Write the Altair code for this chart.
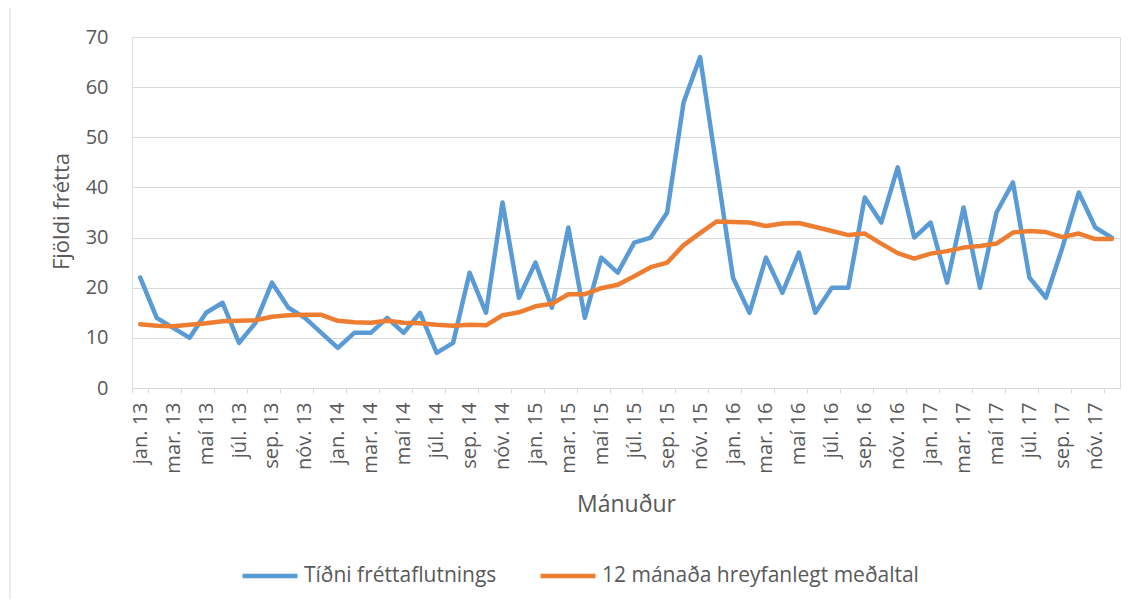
import altair as alt
import pandas as pd

month_abbr = ["jan.", "feb.", "mar.", "apr.", "maí", "jún.", "júl.", "ág.", "sep.", "okt.", "nóv.", "des."]
years = ["13", "14", "15", "16", "17"]
months = [f"{m} {y}" for y in years for m in month_abbr]

tidni = [
    22, 14, 12, 10, 15, 17, 9, 13, 21, 16, 14, 11,
    8, 11, 11, 14, 11, 15, 7, 9, 23, 15, 37, 18,
    25, 16, 32, 14, 26, 23, 29, 30, 35, 57, 66, 44,
    22, 15, 26, 19, 27, 15, 20, 20, 38, 33, 44, 30,
    33, 21, 36, 20, 35, 41, 22, 18, 28, 39, 32, 30,
]
medaltal = [
    12.7, 12.4, 12.3, 12.6, 12.9, 13.3, 13.4, 13.5, 14.2, 14.5, 14.6, 14.6,
    13.4, 13.1, 13.0, 13.4, 13.0, 12.9, 12.6, 12.4, 12.6, 12.5, 14.5, 15.1,
    16.3, 16.8, 18.7, 18.7, 19.9, 20.6, 22.3, 24.1, 25.0, 28.5, 30.9, 33.2,
    33.1, 33.0, 32.3, 32.8, 32.9, 32.1, 31.3, 30.5, 30.8, 28.8, 26.9, 25.8,
    26.8, 27.3, 28.0, 28.3, 28.8, 31.0, 31.3, 31.1, 30.1, 30.8, 29.7, 29.7,
]
series_names = ["Tíðni fréttaflutnings", "12 mánaða hreyfanlegt meðaltal"]
series_colors = ["#5B9BD5", "#ED7D31"]
y_ticks = [0, 10, 20, 30, 40, 50, 60, 70]
label_months = months[::2]

rows = []
for i, m in enumerate(months):
    rows.append({"month": m, "idx": i, "series": series_names[0], "value": tidni[i]})
for i, m in enumerate(months):
    rows.append({"month": m, "idx": i, "series": series_names[1], "value": medaltal[i]})
df = pd.DataFrame(rows)

TXT = "#595959"
GRID = "#D9D9D9"

x_enc = alt.X(
    "month:N",
    sort=months,
    scale=alt.Scale(type="band", paddingInner=0, paddingOuter=0),
    axis=alt.Axis(
        values=label_months,
        labelAngle=-90,
        labelAlign="right",
        labelBaseline="middle",
        labelFontSize=20,
        labelColor=TXT,
        labelPadding=9,
        tickBand="extent",
        tickSize=5,
        tickColor=GRID,
        domainColor=GRID,
        grid=False,
        title="Mánuður",
        titleFontSize=23,
        titleFontWeight="normal",
        titleColor=TXT,
        titleY=116,
        titleBaseline="middle",
    ),
)
y_enc = alt.Y(
    "value:Q",
    scale=alt.Scale(domain=[0, 70]),
    axis=alt.Axis(
        values=y_ticks,
        ticks=False,
        domain=False,
        gridColor=GRID,
        labelFontSize=20,
        labelColor=TXT,
        labelPadding=24,
        title="Fjöldi frétta",
        titleFontSize=22,
        titleFontWeight="normal",
        titleColor=TXT,
        titleAngle=-90,
        titleX=-71,
        titleY=174,
        titleAlign="center",
        titleBaseline="middle",
    ),
)
color_enc = alt.Color(
    "series:N",
    scale=alt.Scale(domain=series_names, range=series_colors),
    legend=alt.Legend(
        title=None,
        orient="none",
        legendX=108,
        legendY=509,
        direction="horizontal",
        symbolType="stroke",
        symbolSize=3025,
        symbolStrokeWidth=4.5,
        labelFontSize=21,
        labelColor=TXT,
        labelOffset=4,
        labelLimit=0,
        columnPadding=34,
        padding=0,
    ),
)

border = alt.Chart(alt.Data(values=[{"a": 1}])).mark_rect(
    fill=None, stroke=GRID, strokeWidth=1
).encode(
    x=alt.value(-122), x2=alt.value(1002), y=alt.value(-36), y2=alt.value(567)
)

base = alt.Chart(df)
line1 = base.transform_filter(alt.datum.series == series_names[0]).mark_line(
    strokeWidth=4.5, strokeJoin="round", strokeCap="round"
).encode(x=x_enc, y=y_enc, color=color_enc, order="idx:Q")
line2 = base.transform_filter(alt.datum.series == series_names[1]).mark_line(
    strokeWidth=4.5, strokeJoin="round", strokeCap="round"
).encode(x=x_enc, y=y_enc, color=color_enc, order="idx:Q")

chart = alt.layer(border, line1, line2).properties(
    width=988,
    height=351,
    autosize=alt.AutoSizeParams(type="none"),
    padding={"left": 124, "top": 29, "right": 11, "bottom": 211},
).configure_view(stroke=None).configure(font="Open Sans")

chart.save("out.html", embed_options={"renderer": "svg", "actions": False})
